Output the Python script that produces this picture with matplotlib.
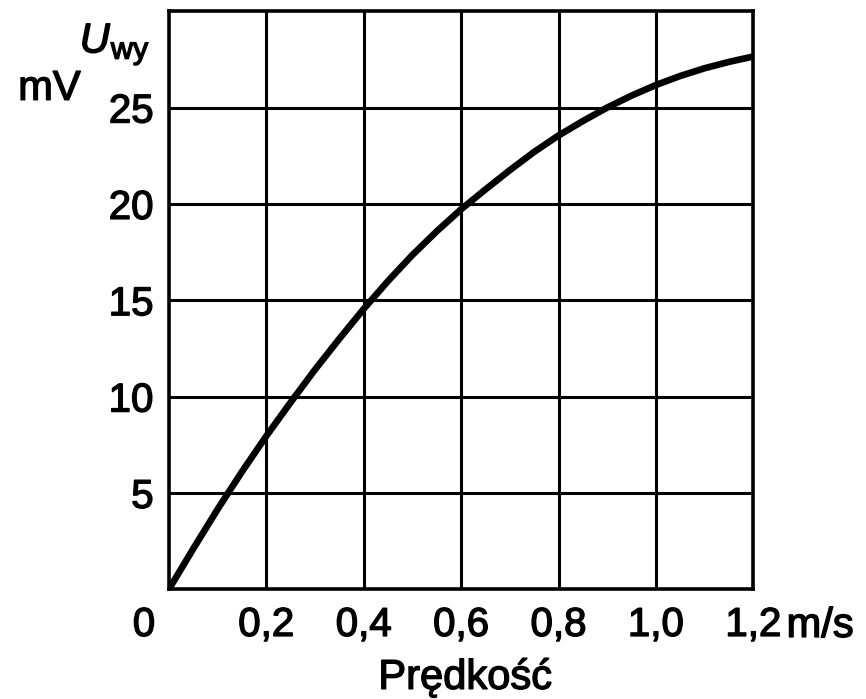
import matplotlib
matplotlib.use("Agg")
import matplotlib.pyplot as plt
import matplotlib.patheffects as pe
import matplotlib.transforms as mtransforms

# dane (co 0,05 m/s)
predkosc = [0.0, 0.05, 0.1, 0.15, 0.2, 0.25, 0.3, 0.35, 0.4, 0.45, 0.5, 0.55, 0.6,
            0.65, 0.7, 0.75, 0.8, 0.85, 0.9, 0.95, 1.0, 1.05, 1.1, 1.15, 1.2]
napiecie = [0.0, 2.1, 4.15, 6.1, 7.95, 9.7, 11.4, 13.0, 14.55, 16.0, 17.35, 18.58, 19.72,
            20.75, 21.75, 22.7, 23.55, 24.3, 25.0, 25.62, 26.17, 26.64, 27.04, 27.37, 27.65]

x_ticks = [0.2, 0.4, 0.6, 0.8, 1.0, 1.2]
x_labels = ["0,2", "0,4", "0,6", "0,8", "1,0", "1,2"]
y_ticks = [5, 10, 15, 20, 25]
y_labels = ["5", "10", "15", "20", "25"]

plt.rcParams['font.family'] = ['Liberation Sans', 'DejaVu Sans']

gruby = [pe.withStroke(linewidth=1.0, foreground='black')]  # lekkie pogrubienie
PAD = 12
FS = 29

fig = plt.figure(figsize=(8.66, 6.99), dpi=100)
ax = fig.add_axes([0.195, 0.157, 0.675, 0.827])

ax.plot(predkosc, napiecie, color='black', lw=4.8, solid_capstyle='round',
        solid_joinstyle='round', zorder=3)

ax.set_xlim(0, 1.2)
ax.set_ylim(0, 30)
ax.set_xticks(x_ticks)
ax.set_xticklabels(x_labels)
ax.set_yticks(y_ticks)
ax.set_yticklabels(y_labels)
ax.tick_params(length=0, labelsize=FS)
ax.tick_params(axis='x', pad=PAD)
ax.tick_params(axis='y', pad=11)
for t in ax.get_xticklabels() + ax.get_yticklabels():
    t.set_path_effects(gruby)
ax.grid(True, color='black', lw=2.2)
for s in ax.spines.values():
    s.set_linewidth(2.6)

# "0" i "m/s" w tej samej linii co opisy osi x
pod_osia = ax.get_xaxis_transform() + mtransforms.ScaledTranslation(
    0, -PAD / 72, fig.dpi_scale_trans)
ax.text(-0.051, 0, "0", transform=pod_osia, fontsize=FS, ha='center', va='top',
        clip_on=False, path_effects=gruby)
ax.text(1.268, 0, "m/s", transform=pod_osia, fontsize=30, ha='left', va='top',
        clip_on=False, path_effects=gruby)

fig.text(0.537, 0.031, "Prędkość", fontsize=30, ha='center', va='center',
         path_effects=gruby)
fig.text(0.021, 0.873, "mV", fontsize=30, ha='left', va='center', path_effects=gruby)
fig.text(0.092, 0.925, "U", fontsize=30, style='italic', ha='left', va='baseline',
         path_effects=gruby)
fig.text(0.128, 0.916, "wy", fontsize=22, ha='left', va='baseline', path_effects=gruby)

fig.savefig("out.png", dpi=100)
